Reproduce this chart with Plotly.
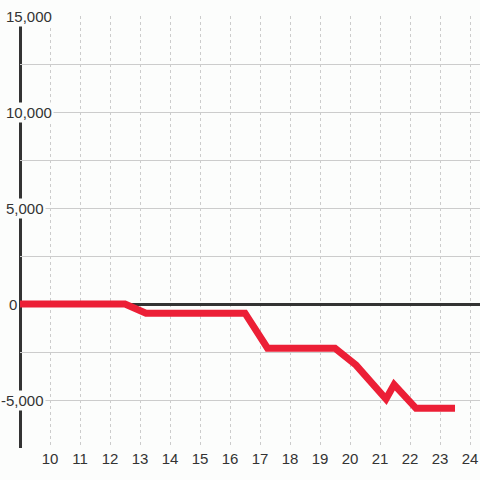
import plotly.graph_objects as go

# Data
hours = [9.0, 12.5, 13.2, 16.5, 17.25, 19.5, 20.2, 21.2, 21.47, 22.2, 23.5]
values = [0, 0, -480, -480, -2300, -2300, -3180, -4950, -4200, -5430, -5430]

x_ticks = [10, 11, 12, 13, 14, 15, 16, 17, 18, 19, 20, 21, 22, 23, 24]
y_label_vals = [15000, 10000, 5000, 0, -5000]
y_label_text = ["15,000", "10,000", "5,000", "0", "-5,000"]

BG = "#fcfdfc"
TXT = "#333333"
FONT = "Liberation Sans, Arial, sans-serif"

fig = go.Figure()
fig.add_trace(go.Scatter(
    x=hours, y=values, mode="lines",
    line=dict(color="#ec1f36", width=7),
    hoverinfo="skip", cliponaxis=False,
))

# label right-edge pixel positions (style)
label_right_px = [54, 54, 46, 19, 46]
for v, t, px in zip(y_label_vals, y_label_text, label_right_px):
    fig.add_annotation(
        x=(px - 20) / 460, xref="paper", y=v, yref="y",
        text=t, showarrow=False, xanchor="right", yanchor="middle",
        font=dict(family=FONT, size=15, color=TXT),
        bgcolor=BG, borderpad=1,
    )

# vertical axis line (paper refs so it is not clipped)
fig.add_shape(type="line", xref="paper", yref="paper", x0=0.0011, x1=0.0011,
              y0=0, y1=(14600 + 7500) / 22500,
              line=dict(color="#333333", width=3), layer="below")

fig.update_layout(
    width=480, height=480,
    margin=dict(l=20, r=0, t=16, b=32, autoexpand=False),
    paper_bgcolor=BG, plot_bgcolor=BG,
    showlegend=False,
    font=dict(family=FONT, size=15, color=TXT),
    xaxis=dict(
        range=[9, 24.333], tickvals=x_ticks, ticktext=[str(v) for v in x_ticks],
        showgrid=True, gridcolor="#cccccc", gridwidth=1, griddash="dot",
        zeroline=False, showline=False, ticks="",
        tickfont=dict(family=FONT, size=15, color=TXT),
        automargin=False,
    ),
    yaxis=dict(
        range=[-7500, 15000], dtick=2500, tick0=0,
        showgrid=True, gridcolor="#cccccc", gridwidth=1,
        zeroline=True, zerolinecolor="#333333", zerolinewidth=3,
        showticklabels=False, ticks="", showline=False,
        automargin=False,
    ),
)

fig.write_html(
    "out.html",
    config={"displayModeBar": False},
    post_script="document.body.style.margin='0';document.body.style.overflow='hidden';",
)
